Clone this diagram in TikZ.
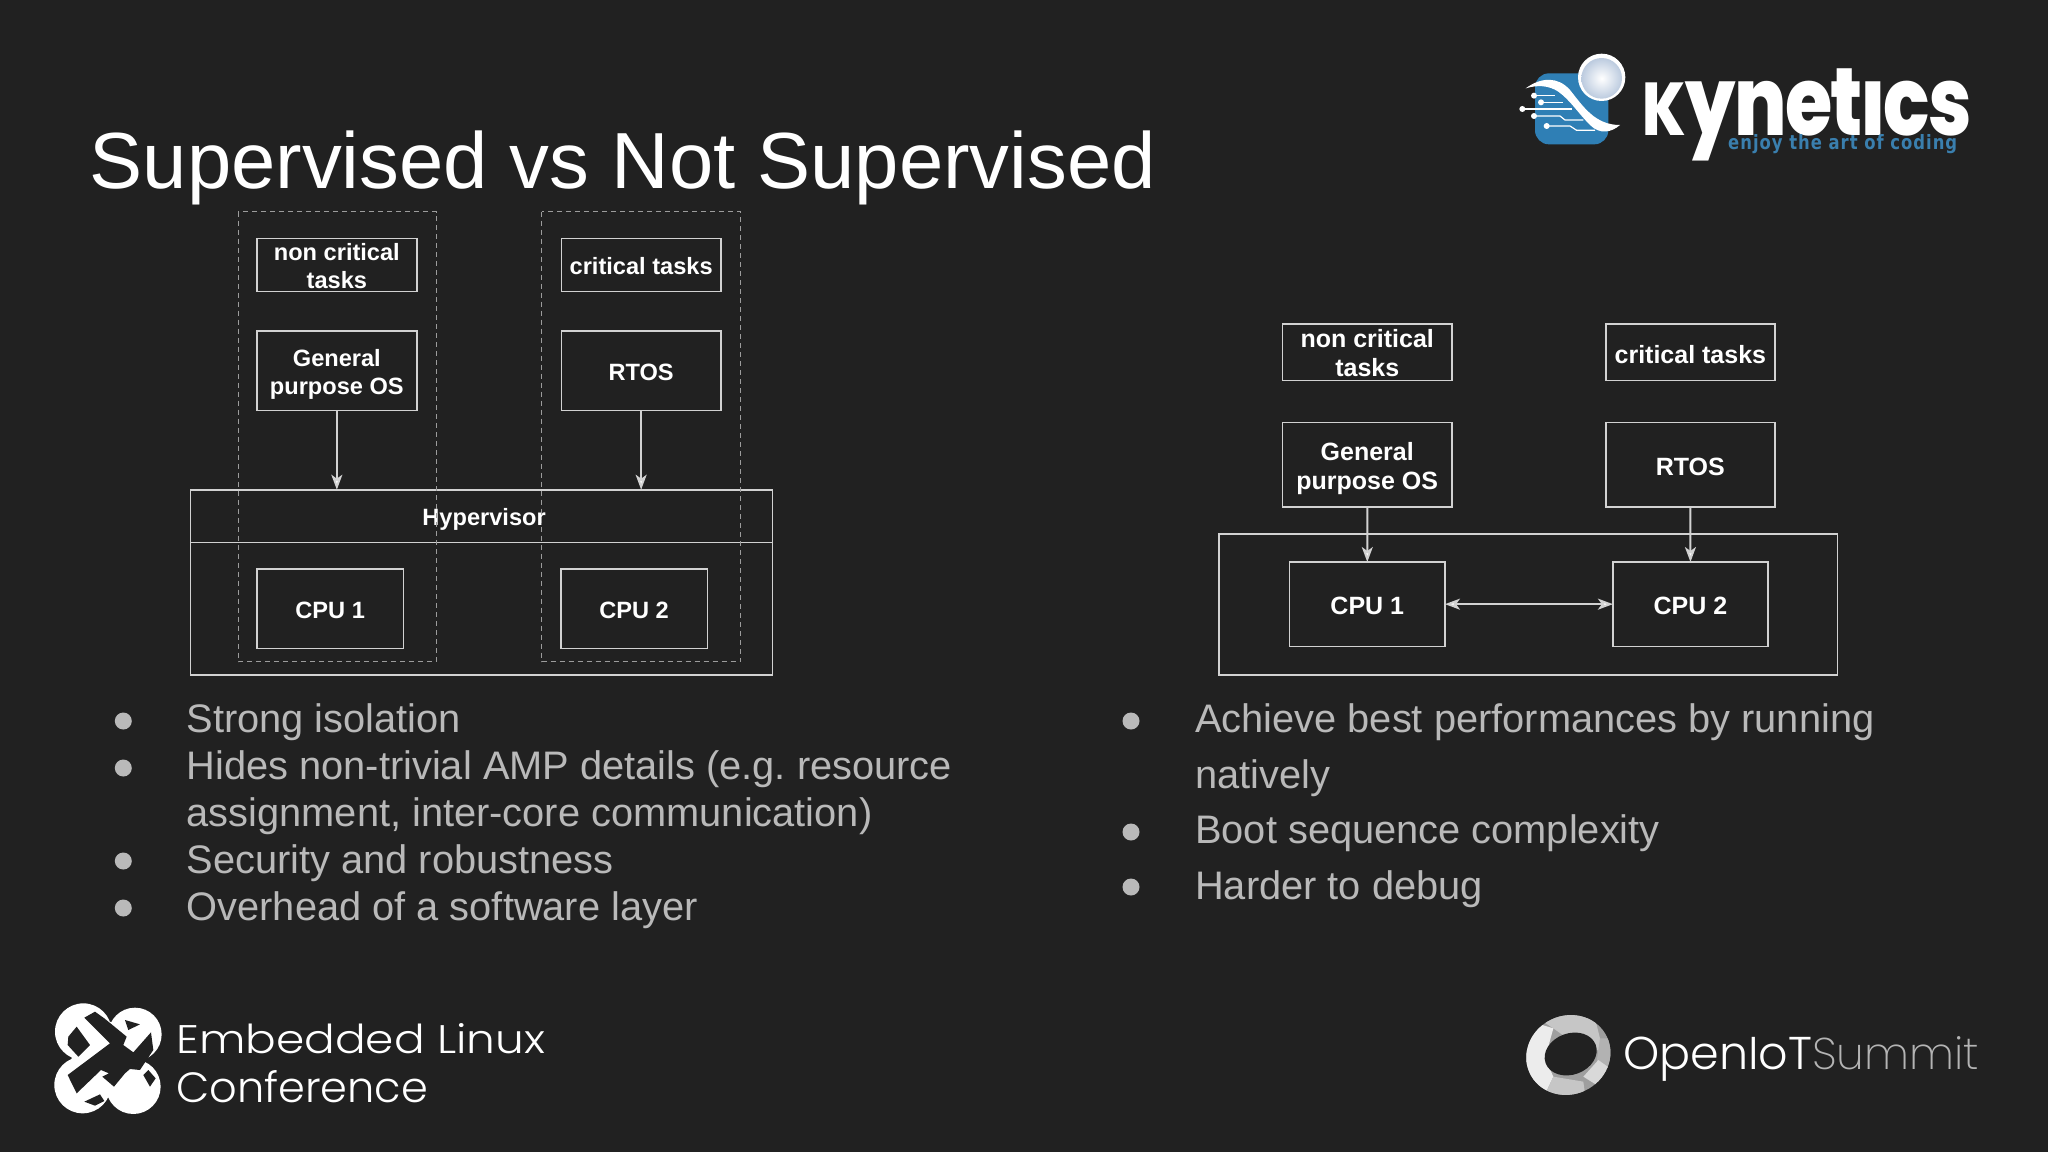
\documentclass[tikz,border=0pt]{standalone}
\usepackage{fontspec}
\usepackage{graphicx}
\setmainfont{Liberation Sans}
\newfontfamily\popfont{Poppins ExtraBold}[LetterSpace=-2]
\newfontfamily\poplight{Poppins Light}
\newfontfamily\popthin{Poppins ExtraLight}
\newfontfamily\tagfont{DejaVu Sans Bold}[LetterSpace=6]
\usetikzlibrary{arrows.meta,shapes.geometric}
\definecolor{bg}{HTML}{212121}
\definecolor{bodygray}{HTML}{B9B9B9}
\definecolor{linegray}{HTML}{D2D2D2}
\definecolor{dashgray}{HTML}{9C9C9C}
\definecolor{kblue}{HTML}{2F7FB5}
\definecolor{ktext}{HTML}{3A7FAE}
\definecolor{ballout}{HTML}{BCCBDF}
\definecolor{summit}{HTML}{B4B4B4}
\newcommand{\boxn}[8][]{\node[boxs,minimum width={#5-#3},minimum height={#6-#4}] (#2) at ({(#3+#5)/2},{(#4+#6)/2}) {};
  \node[labelt,#1] (#2-t) at ([yshift=-#8pt]#2.center) {#7};}
\tikzset{
  boxs/.style={draw=linegray,line width=1.6pt,inner sep=0pt,outer sep=0pt},
  labelt/.style={inner sep=0pt,outer sep=0pt,align=center,text=white},
  lfont/.style={font=\fontsize{23.6}{27.7}\selectfont\bfseries},
  rfont/.style={font=\fontsize{25}{29.3}\selectfont\bfseries},
  dashbox/.style={draw=dashgray,line width=1pt,dash pattern=on 5pt off 4pt},
  arr/.style={draw=linegray,line width=2pt,-{Stealth[length=15pt,width=11pt,inset=4pt,fill=white]}},
  arrb/.style={draw=linegray,line width=2pt,{Stealth[length=15pt,width=11pt,inset=4pt,fill=white]}-{Stealth[length=15pt,width=11pt,inset=4pt,fill=white]}},
  body/.style={anchor=base west,inner sep=0pt,text=bodygray,font=\fontsize{39.8}{47}\selectfont},
  bul/.style={circle,fill=bodygray,inner sep=0pt,minimum size=17pt},
  title/.style={anchor=base west,inner sep=0pt,text=white,font=\fontsize{79.6}{90}\selectfont},
  logo/.style={anchor=base west,inner sep=0pt,text=white}
}
\begin{document}
\frenchspacing
\begin{tikzpicture}[x=1pt,y=-1pt]
\fill[bg] (0,0) rectangle (2048,1152);
\useasboundingbox (0,0) rectangle (2048,1152);

\node[title] (ttl) at (89.5,188.5) {Supervised vs Not Supervised};

% left diagram
\boxn[lfont]{a1}{257}{238.3}{416.7}{291.3}{non critical\\tasks}{1.3}
\boxn[lfont]{a2}{561.5}{238.3}{720.8}{291.3}{critical tasks}{1.3}
\boxn[lfont]{a3}{257}{330.7}{416.7}{410.3}{General\\purpose OS}{3.6}
\boxn[lfont]{a4}{561.5}{330.7}{720.8}{410.3}{RTOS}{2.3}
\boxn[lfont]{hout}{190.6}{489.7}{772.6}{674.7}{}{0}
\boxn[lfont,xshift=2.5pt]{hyp}{190.6}{489.7}{772.6}{542.3}{Hypervisor}{3.6}
\boxn[lfont]{c1}{257}{568.7}{403.3}{648.3}{CPU 1}{2}
\boxn[lfont]{c2}{560.7}{568.7}{707.4}{648.3}{CPU 2}{2}
\draw[dashbox] (238.4,211.7) rectangle (436.5,661.7);
\draw[dashbox] (541.7,211.7) rectangle (740.6,661.7);
\draw[arr] (a3.south) -- (a3.south |- hyp.north);
\draw[arr] (a4.south) -- (a4.south |- hyp.north);

% right diagram
\boxn[rfont]{r1}{1282.5}{323.7}{1452}{380.3}{non critical\\tasks}{1.3}
\boxn[rfont]{r2}{1605.7}{323.7}{1775}{380.3}{critical tasks}{2.4}
\boxn[rfont]{r3}{1282.5}{422.3}{1452}{507}{General\\purpose OS}{3.8}
\boxn[rfont]{r4}{1605.7}{422.3}{1775}{507}{RTOS}{2.4}
\boxn[rfont]{rout}{1219}{533.7}{1837.6}{674.7}{}{0}
\boxn[rfont]{s1}{1289.6}{562}{1445}{646.3}{CPU 1}{2}
\boxn[rfont]{s2}{1612.9}{562}{1768}{646.3}{CPU 2}{2}
\draw[arr] (r3.south) -- (s1.north);
\draw[arr] (r4.south) -- (s2.north);
\draw[arrb] (s1.east) -- (s2.west);

% left bullets
\node[bul] (bl1) at (123.3,721) {};
\node[bul] (bl2) at (123.3,768) {};
\node[bul] (bl3) at (123.3,861) {};
\node[bul] (bl4) at (123.3,908) {};
\node[body] (tl1) at (186.5,732.5) {Strong isolation};
\node[body] (tl2) at (186.5,779.6) {Hides non-trivial AMP details (e.g. resource};
\node[body] (tl3) at (186.5,826.6) {assignment, inter-core communication)};
\node[body] (tl4) at (186.5,873.3) {Security and robustness};
\node[body] (tl5) at (186.5,920.6) {Overhead of a software layer};

% right bullets
\node[bul] (br1) at (1131,721) {};
\node[bul] (br2) at (1131,832) {};
\node[bul] (br3) at (1131,887) {};
\node[body] (tr1) at (1195,732.5) {Achieve best performances by running};
\node[body] (tr2) at (1195,788) {natively};
\node[body] (tr3) at (1195,843.5) {Boot sequence complexity};
\node[body] (tr4) at (1195,899) {Harder to debug};

% Kynetics logo
\begin{scope}[shift={(1515,45)},x=0.3333pt,y=-0.3333pt]
\fill[kblue,rounded corners=14] (60,85) rectangle (280,298);
\draw[white,line width=1.2pt] (57,152) -- (120,152);
\draw[white,line width=1.2pt] (78,172) -- (145,172);
\draw[white,line width=1.2pt] (22,192) -- (170,192);
\draw[white,line width=1.2pt] (57,213) -- (135,213) -- (150,225) -- (205,225);
\draw[white,line width=1.2pt] (95,243) -- (165,243) -- (185,256) -- (240,256);
\foreach \p in {(57,152),(78,172),(22,192),(57,213),(95,243)} \fill[white] \p circle (9);
\fill[white] (32,130) .. controls (80,95) and (130,95) .. (165,135) .. controls (205,185) and (240,240) .. (315,240) .. controls (290,262) and (255,270) .. (225,240) .. controls (190,205) and (165,165) .. (130,140) .. controls (100,120) and (65,120) .. (32,130) -- cycle;
\fill[white] (260,97) circle (71);
\shade[inner color=white,outer color=ballout] (260,100) circle (61);
\end{scope}
\node[logo] (kyn) at (1642,135) {\resizebox{330pt}{!}{\scalebox{1}[1.25]{\popfont \scalebox{0.78}{K}ynetics}}};
\fill[bg] (1853,48) rectangle (1892,79);
\node[logo,text=ktext] (kyt) at (1728,149) {\resizebox{229pt}{15pt}{\tagfont enjoy the art of coding}};

% ELC logo
\begin{scope}[shift={(45,995)},x=0.3333pt,y=-0.3333pt]
\fill[white] (115,110) circle (85) (270,118) circle (80) (113,270) circle (85) (265,275) circle (82) (190,190) circle (110);
\fill[bg] (118,68) -- (150,50) -- (178,70) -- (245,125) -- (235,150) -- (265,172) -- (318,112) -- (325,165) -- (285,225) -- (255,222) -- (240,235) -- (207,275) -- (172,245) -- (192,235) -- (168,225) -- (95,295) -- (68,240) -- (135,190) -- (195,145) -- cycle;
\fill[bg] (70,125) -- (95,95) -- (135,150) -- (100,185) -- (68,150) -- cycle;
\fill[bg] (240,75) -- (285,88) -- (250,105) -- cycle;
\fill[bg] (310,225) -- (332,250) -- (315,275) -- (295,240) -- cycle;
\fill[bg] (118,320) -- (165,298) -- (178,318) -- (150,332) -- cycle;
\end{scope}
\node[logo] (e1) at (176,1053) {\resizebox{369pt}{30pt}{\poplight Embedded Linux}};
\node[logo] (e2) at (176,1102) {\resizebox{252pt}{32pt}{\poplight Conference}};

% OpenIoT logo
\begin{scope}[shift={(1520,1005)},x=0.3333pt,y=-0.3333pt]
\begin{scope}
\clip[rotate around={25:(145,150)}] (145,150) ellipse (128 and 118);
\fill[gray!75] (0,0) rectangle (300,300);
\fill[gray!45] (40,30) -- (220,20) -- (250,140) -- (170,120) -- (100,70) -- cycle;
\fill[gray!15] (0,40) -- (100,70) -- (75,160) -- (100,215) -- (60,300) -- (0,300) -- cycle;
\fill[gray!45] (100,215) -- (190,230) -- (200,300) -- (60,300) -- cycle;
\fill[gray!60] (240,100) -- (300,100) -- (300,220) -- (230,170) -- cycle;
\fill[gray!30] (190,215) -- (235,165) -- (270,190) -- (230,240) -- cycle;
\end{scope}
\fill[bg,rotate around={20:(152,147)}] (152,147) ellipse (80 and 62);
\end{scope}
\node[logo] (o1) at (1623,1069) {\resizebox{189pt}{!}{\poplight OpenIoT}};
\node[logo,text=summit] (o2) at (1812,1069) {\resizebox{167pt}{!}{\popthin Summit}};
\end{tikzpicture}
\end{document}
